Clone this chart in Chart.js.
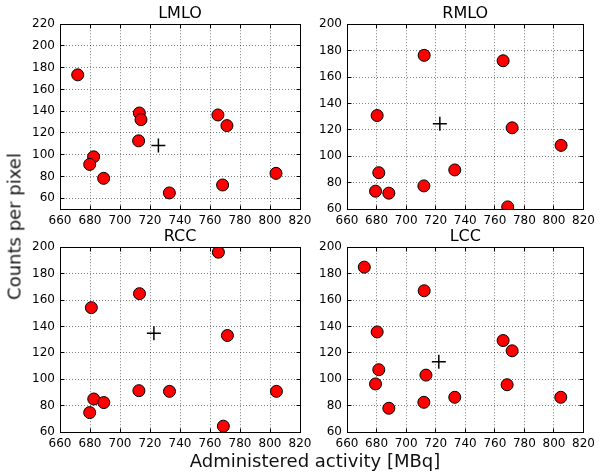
<!DOCTYPE html>
<html lang="en">
<head>
<meta charset="UTF-8">
<title>Counts per pixel vs administered activity</title>
<style>
  * { margin: 0; padding: 0; box-sizing: border-box; }
  body {
    width: 600px;
    height: 475px;
    background: #fff;
    position: relative;
    overflow: hidden;
    font-family: "DejaVu Sans", sans-serif;
    color: #000;
  }
  .panel { position: absolute; }
  .ylabel {
    position: absolute;
    left: -86px;
    top: 216px;
    width: 200px;
    height: 21px;
    line-height: 21px;
    font-size: 18px;
    text-align: center;
    transform: rotate(-90deg);
    color: #111;
  }
  .xlabel {
    position: absolute;
    left: 115px;
    top: 450px;
    width: 400px;
    height: 21px;
    line-height: 21px;
    font-size: 18px;
    text-align: center;
    color: #111;
  }
</style>
</head>
<body>
  <canvas class="panel" id="lmlo" width="320" height="230" style="left:0;top:0"></canvas>
  <canvas class="panel" id="rmlo" width="310" height="230" style="left:290px;top:0"></canvas>
  <canvas class="panel" id="rcc" width="320" height="230" style="left:0;top:223px"></canvas>
  <canvas class="panel" id="lcc" width="310" height="230" style="left:290px;top:223px"></canvas>
  <div class="ylabel">Counts per pixel</div>
  <div class="xlabel">Administered activity [MBq]</div>

  <script src="https://cdn.jsdelivr.net/npm/chart.js"></script>
  <script>
    const FONT = '"DejaVu Sans", sans-serif';

    // tick labels
    const xTicks = [660, 680, 700, 720, 740, 760, 780, 800, 820];
    const yTicksLMLO = [60, 80, 100, 120, 140, 160, 180, 200, 220];
    const yTicks = [60, 80, 100, 120, 140, 160, 180, 200];

    // LMLO
    const lmloActivity = [671.8, 712.9, 714.0, 712.4, 682.4, 679.8, 689.1, 732.9, 765.3, 771.3, 768.4, 804.0];
    const lmloCounts   = [173.4, 138.3, 132.2, 112.7, 98.0, 91.0, 78.2, 64.8, 136.5, 126.7, 72.1, 82.8];
    const lmloMean = [725.6, 108.4];

    // RMLO
    const rmloActivity = [712.2, 765.6, 680.4, 771.7, 804.8, 681.5, 732.9, 712.0, 679.3, 688.3, 768.7];
    const rmloCounts   = [176.4, 172.3, 130.8, 121.5, 108.2, 87.5, 89.6, 77.5, 73.5, 72.0, 61.6];
    const rmloMean = [722.8, 124.5];

    // RCC
    const rccActivity = [765.6, 713.0, 680.9, 771.6, 712.6, 733.0, 804.3, 682.5, 689.2, 679.8, 768.9];
    const rccCounts   = [196.2, 164.8, 154.2, 133.1, 91.3, 90.8, 90.8, 85.0, 82.3, 74.7, 64.4];
    const rccMean = [722.6, 134.8];

    // LCC
    const lccActivity = [671.7, 712.2, 680.4, 765.6, 771.7, 681.5, 713.4, 679.3, 768.3, 712.0, 732.9, 804.6, 688.3];
    const lccCounts   = [184.9, 167.0, 135.8, 129.3, 121.5, 107.2, 103.1, 96.4, 95.8, 82.5, 86.3, 86.3, 78.0];
    const lccMean = [722.1, 113.2];

    // axes frame + inward ticks on all four sides
    const framePlugin = {
      id: 'frame',
      afterDraw(chart) {
        const { ctx, chartArea: a, scales: { x, y } } = chart;
        const al = p => Math.round(p - 0.5) + 0.5;
        const L = al(a.left), R = al(a.right), T = al(a.top), B = al(a.bottom);
        ctx.save();
        ctx.strokeStyle = '#000';
        ctx.lineWidth = 1;
        ctx.beginPath();
        x.ticks.forEach(t => {
          const px = al(x.getPixelForValue(t.value));
          ctx.moveTo(px, B); ctx.lineTo(px, B - 4);
          ctx.moveTo(px, T); ctx.lineTo(px, T + 4);
        });
        y.ticks.forEach(t => {
          const py = al(y.getPixelForValue(t.value));
          ctx.moveTo(L, py); ctx.lineTo(L + 4, py);
          ctx.moveTo(R, py); ctx.lineTo(R - 4, py);
        });
        ctx.stroke();
        ctx.strokeRect(L, T, R - L, B - T);
        ctx.restore();
      }
    };

    function makeChart(id, title, xs, ys, mean, yMin, yMax, yTickList, yWidth, padRight) {
      return new Chart(document.getElementById(id), {
        type: 'scatter',
        data: {
          datasets: [{
            data: xs.map((v, i) => ({ x: v, y: ys[i] })),
            backgroundColor: '#ff0000',
            borderColor: '#000',
            borderWidth: 1,
            pointRadius: 6,
            clip: 0
          }, {
            data: [{ x: mean[0], y: mean[1] }],
            pointStyle: 'cross',
            pointRadius: 7,
            borderColor: '#000',
            borderWidth: 1.5,
            clip: 0
          }]
        },
        options: {
          responsive: false,
          animation: false,
          events: [],
          layout: { padding: { left: 0, right: padRight, top: 0, bottom: 0 } },
          plugins: {
            legend: { display: false },
            tooltip: { enabled: false },
            title: {
              display: true,
              text: title,
              fullSize: false,
              color: '#000',
              font: { family: FONT, size: 16, weight: 'normal' },
              padding: { top: 4, bottom: 1 }
            }
          },
          scales: {
            x: {
              type: 'linear',
              min: 660,
              max: 820,
              afterBuildTicks: s => { s.ticks = xTicks.map(v => ({ value: v })); },
              afterFit: s => { s.height = 21; },
              grid: { color: 'rgba(0,0,0,0.5)', lineWidth: 1, drawTicks: false },
              border: { display: false, dash: [1, 2] },
              ticks: { color: '#000', font: { family: FONT, size: 12 }, padding: 5, maxRotation: 0, autoSkip: false }
            },
            y: {
              min: yMin,
              max: yMax,
              afterBuildTicks: s => { s.ticks = yTickList.map(v => ({ value: v })); },
              afterFit: s => { s.width = yWidth; },
              grid: { color: 'rgba(0,0,0,0.5)', lineWidth: 1, drawTicks: false },
              border: { display: false, dash: [1, 2] },
              ticks: { color: '#000', font: { family: FONT, size: 12 }, padding: 5, autoSkip: false }
            }
          }
        },
        plugins: [framePlugin]
      });
    }

    makeChart('lmlo', 'LMLO', lmloActivity, lmloCounts, lmloMean, 50, 220, yTicksLMLO, 60, 20);
    makeChart('rmlo', 'RMLO', rmloActivity, rmloCounts, rmloMean, 60, 200, yTicks, 57, 15);
    makeChart('rcc', 'RCC', rccActivity, rccCounts, rccMean, 60, 200, yTicks, 60, 20);
    makeChart('lcc', 'LCC', lccActivity, lccCounts, lccMean, 60, 200, yTicks, 57, 15);
  </script>
</body>
</html>
